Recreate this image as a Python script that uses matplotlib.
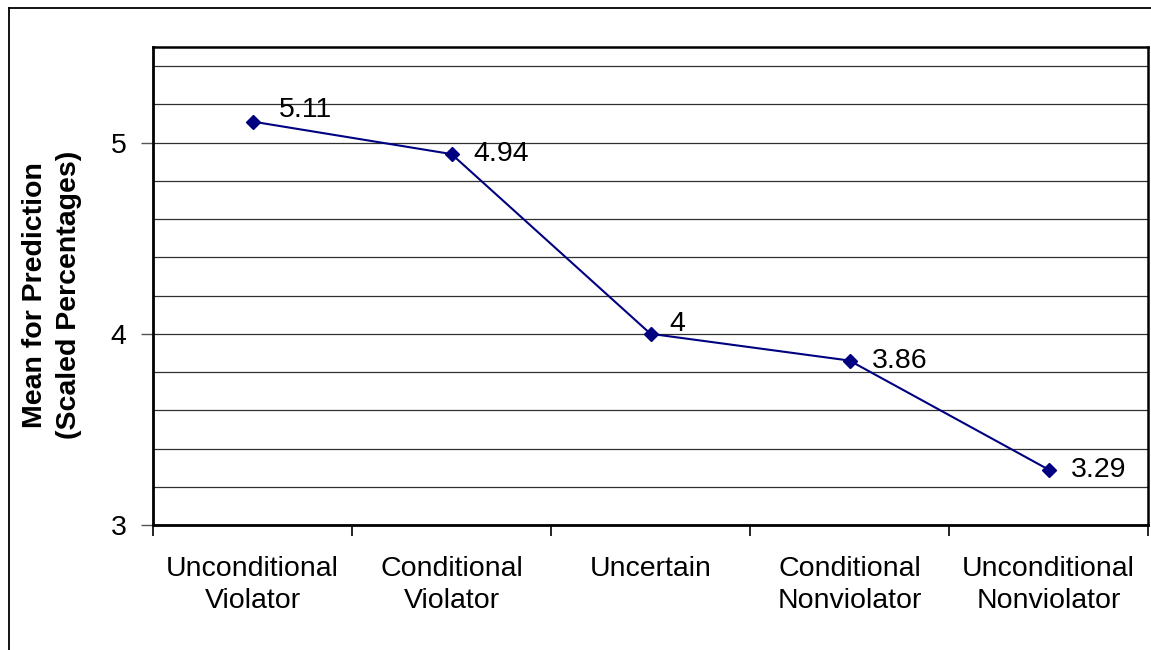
import matplotlib
matplotlib.use("Agg")
import matplotlib.pyplot as plt
from matplotlib.lines import Line2D
from matplotlib.ticker import MultipleLocator, FixedLocator, NullFormatter

categories = ["Unconditional\nViolator", "Conditional\nViolator", "Uncertain",
              "Conditional\nNonviolator", "Unconditional\nNonviolator"]
means = [5.11, 4.94, 4.00, 3.86, 3.29]
value_labels = ["5.11", "4.94", "4", "3.86", "3.29"]
y_ticks = [3, 4, 5]
y_label = "Mean for Prediction\n(Scaled Percentages)"

plt.rcParams['font.family'] = ['Liberation Sans', 'DejaVu Sans']

W, H = 1151, 650
fig = plt.figure(figsize=(W / 100, H / 100), dpi=100)
fig.patch.set_facecolor('white')

# outer frame (left and top edges)
fig.add_artist(Line2D([9 / W, 9 / W], [0, 1 - 8 / H], transform=fig.transFigure,
                      color='black', lw=1.3))
fig.add_artist(Line2D([9 / W, 1], [1 - 8 / H, 1 - 8 / H], transform=fig.transFigure,
                      color='black', lw=1.3))

left, right, top, bottom = 153, 1148, 47, 525
ax = fig.add_axes([left / W, 1 - bottom / H, (right - left) / W, (bottom - top) / H])

x = list(range(len(categories)))
ax.set_xlim(-0.5, len(categories) - 0.5)
ax.set_ylim(3, 5.5)

ax.yaxis.set_major_locator(FixedLocator(y_ticks))
ax.yaxis.set_minor_locator(MultipleLocator(0.2))
ax.grid(True, which='both', axis='y', color='#303030', lw=0.9)
ax.set_axisbelow(True)

ax.set_xticks(x)
ax.set_xticklabels(categories, fontsize=20.5, linespacing=1.3)
ax.tick_params(axis='x', which='major', length=0, pad=22)
ax.set_xticks([i - 0.5 for i in range(len(categories) + 1)], minor=True)
ax.tick_params(axis='x', which='minor', length=8, width=1.2, direction='out')
ax.xaxis.set_minor_formatter(NullFormatter())

ax.tick_params(axis='y', which='major', length=9, width=1.0, direction='out',
               labelsize=20.5, pad=10, color='#555555')
ax.tick_params(axis='y', which='minor', length=0)

for side in ['left', 'bottom']:
    ax.spines[side].set_linewidth(2)
for side in ['top', 'right']:
    ax.spines[side].set_linewidth(1.8)

ax.plot(x, means, color='#000080', lw=1.5, marker='D', markersize=7.5,
        markerfacecolor='#000080', markeredgecolor='#000080', zorder=5)

raise_px = [12, 0, 10, 0, 0]
xshift = [26, 22, 19, 22, 22]
for xi, yi, lab, dy, dx in zip(x, means, value_labels, raise_px, xshift):
    ax.annotate(lab, (xi, yi), xytext=(dx * 0.72, dy * 0.72), textcoords='offset points',
                ha='left', va='center', fontsize=20.5, color='black', zorder=6)

fig.text(52.5 / W, 1 - 295 / H, y_label, rotation=90, ha='center', va='center',
         fontsize=20.5, fontweight='bold', multialignment='center', linespacing=1.4)

fig.savefig('out.png', dpi=100, facecolor='white')
